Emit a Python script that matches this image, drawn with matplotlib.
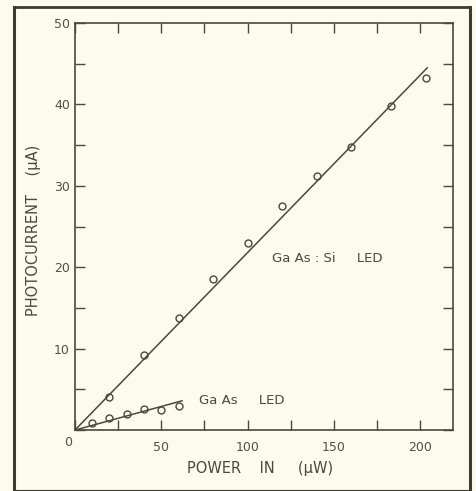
import matplotlib.pyplot as plt
from matplotlib.lines import Line2D
from matplotlib.ticker import MultipleLocator

# GaAs:Si LED measurements
si_power = [20, 40, 60, 80, 100, 120, 140, 160, 183, 203]
si_current = [4.1, 9.2, 13.8, 18.6, 23.0, 27.5, 31.2, 34.8, 39.8, 43.2]
si_fit_power = [0, 204]
si_fit_current = [0, 44.5]

# GaAs LED measurements
gaas_power = [10, 20, 30, 40, 50, 60]
gaas_current = [0.9, 1.5, 2.0, 2.6, 2.5, 3.0]
gaas_fit_power = [0, 62]
gaas_fit_current = [0, 3.6]

paper = '#fbfbee'
ink = '#4a4a3c'
plt.rcParams['font.family'] = ['DejaVu Sans']

fig = plt.figure(figsize=(4.77, 4.91), dpi=100, facecolor=paper)
ax = fig.add_axes([0.157, 0.124, 0.793, 0.829])
ax.set_facecolor(paper)

ax.plot(si_fit_power, si_fit_current, color=ink, lw=1.1)
ax.plot(gaas_fit_power, gaas_fit_current, color=ink, lw=1.1)
ax.plot(si_power, si_current, 'o', ms=5, mfc='none', mec=ink, mew=1.0)
ax.plot(gaas_power, gaas_current, 'o', ms=5, mfc='none', mec=ink, mew=1.0)

ax.set_xlim(0, 219)
ax.set_ylim(0, 50)
ax.xaxis.set_major_locator(MultipleLocator(50))
ax.xaxis.set_minor_locator(MultipleLocator(25))
ax.yaxis.set_major_locator(MultipleLocator(10))
ax.yaxis.set_minor_locator(MultipleLocator(5))
ax.tick_params(which='both', direction='in', top=True, right=True,
               color=ink, width=1.0, labelcolor='#505046', labelsize=9)
ax.tick_params(which='both', length=7)
ax.tick_params(axis='x', pad=8)
ax.set_xticks([50, 100, 150, 200])
ax.set_yticks([10, 20, 30, 40, 50])
for s in ax.spines.values():
    s.set_color(ink)
    s.set_linewidth(1.2)

# origin label sits below-left of the corner
ax.text(-4, -1.5, '0', ha='center', va='center', fontsize=9, color='#505046')

ax.text(114, 20.6, 'Ga As : Si     LED', fontsize=9.5, color=ink)
ax.text(72, 3.2, 'Ga As     LED', fontsize=9.5, color=ink)

ax.set_ylabel('PHOTOCURRENT    (μA)', fontsize=10.5, color=ink)
ax.set_xlabel('POWER    IN     (μW)', fontsize=10.5, color=ink)
ax.yaxis.set_label_coords(-0.09, 0.49)
ax.xaxis.set_label_coords(0.49, -0.075)

# hand-drawn border around the figure
for xs, ys, w in [([0.029, 0.029], [0.0, 0.986], 2.2),
                  ([0.029, 0.985], [0.986, 0.986], 2.0),
                  ([0.985, 0.985], [0.0, 0.986], 2.2),
                  ([0.029, 0.985], [0.003, 0.003], 0.8)]:
    fig.add_artist(Line2D(xs, ys, transform=fig.transFigure, color='#3c3c30', lw=w))

fig.savefig('out.png', dpi=100, facecolor=paper)
